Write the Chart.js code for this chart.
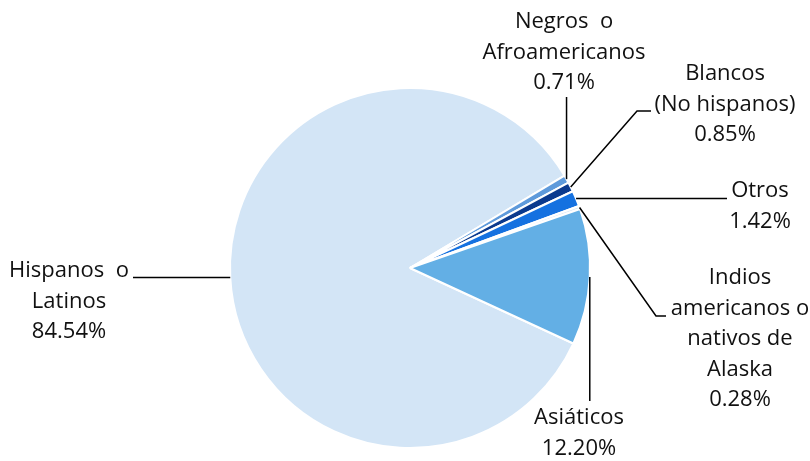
<!DOCTYPE html>
<html>
<head>
<meta charset="utf-8">
<script src="https://cdn.jsdelivr.net/npm/chart.js@4.4.0/dist/chart.umd.min.js"></script>
<style>
  html, body { margin: 0; padding: 0; background: #fff; }
  #wrap { width: 810px; height: 461px; }
</style>
</head>
<body>
<div id="wrap"><canvas id="myChart"></canvas></div>
<script>
// Données du graphique
const categories = [
  "Hispanos o Latinos",
  "Negros o Afroamericanos",
  "Blancos (No hispanos)",
  "Otros",
  "Indios americanos o nativos de Alaska",
  "Asiáticos"
];
const values = [84.54, 0.71, 0.85, 1.42, 0.28, 12.20];
const colors = ["#D3E5F6", "#5E9ADB", "#0B3A8E", "#1571E0", "#DCE9F7", "#63AFE5"];

// Étiquettes affichées (lignes)
const labelLines = [
  ["Hispanos  o", "Latinos"],
  ["Negros  o", "Afroamericanos"],
  ["Blancos", "(No hispanos)"],
  ["Otros"],
  ["Indios", "americanos o", "nativos de", "Alaska"],
  ["Asiáticos"]
];

// Position des étiquettes et des traits de rappel
const labelLayout = [
  { x: 69,  y: 271, path: [[133, null]] },
  { x: 564, y: 22,  path: [[null, 97]] },
  { x: 725, y: 74,  path: [[637, 111], [651, 111]] },
  { x: 760, y: 191, path: [[727, null]] },
  { x: 740, y: 278, path: [[656, 316], [666, 316]] },
  { x: 579, y: 418, path: [[null, 401]] }
];

const leaderLabels = {
  id: 'leaderLabels',
  afterDraw(chart) {
    const ctx = chart.ctx;
    const arcs = chart.getDatasetMeta(0).data;
    ctx.save();
    ctx.strokeStyle = '#000';
    ctx.lineWidth = 1.5;
    ctx.fillStyle = '#111';
    ctx.font = '22px "Open Sans"';
    ctx.textAlign = 'center';
    ctx.textBaseline = 'middle';
    arcs.forEach((arc, i) => {
      const p = arc.getProps(['x', 'y', 'startAngle', 'endAngle', 'outerRadius'], true);
      const mid = (p.startAngle + p.endAngle) / 2;
      const ax = p.x + Math.cos(mid) * p.outerRadius;
      const ay = p.y + Math.sin(mid) * p.outerRadius;
      const lay = labelLayout[i];
      ctx.beginPath();
      ctx.moveTo(ax, ay);
      lay.path.forEach(pt => {
        ctx.lineTo(pt[0] === null ? ax : pt[0], pt[1] === null ? ay : pt[1]);
      });
      ctx.stroke();
      const lines = labelLines[i].concat([values[i].toFixed(2) + '%']);
      lines.forEach((t, k) => ctx.fillText(t, lay.x, lay.y + k * 30.5));
    });
    ctx.restore();
  }
};

const ctx = document.getElementById("myChart").getContext("2d");
const myChart = new Chart(ctx, {
  type: 'pie',
  data: {
    labels: categories,
    datasets: [{
      data: values,
      backgroundColor: colors,
      borderColor: '#fff',
      borderWidth: 2,
      radius: 180
    }]
  },
  options: {
    responsive: true,
    maintainAspectRatio: false,
    animation: false,
    rotation: 114.8,
    layout: { padding: { left: 230, right: 220, top: 88, bottom: 13 } },
    plugins: {
      legend: { display: false },
      tooltip: { enabled: false }
    }
  },
  plugins: [leaderLabels]
});
</script>
</body>
</html>
